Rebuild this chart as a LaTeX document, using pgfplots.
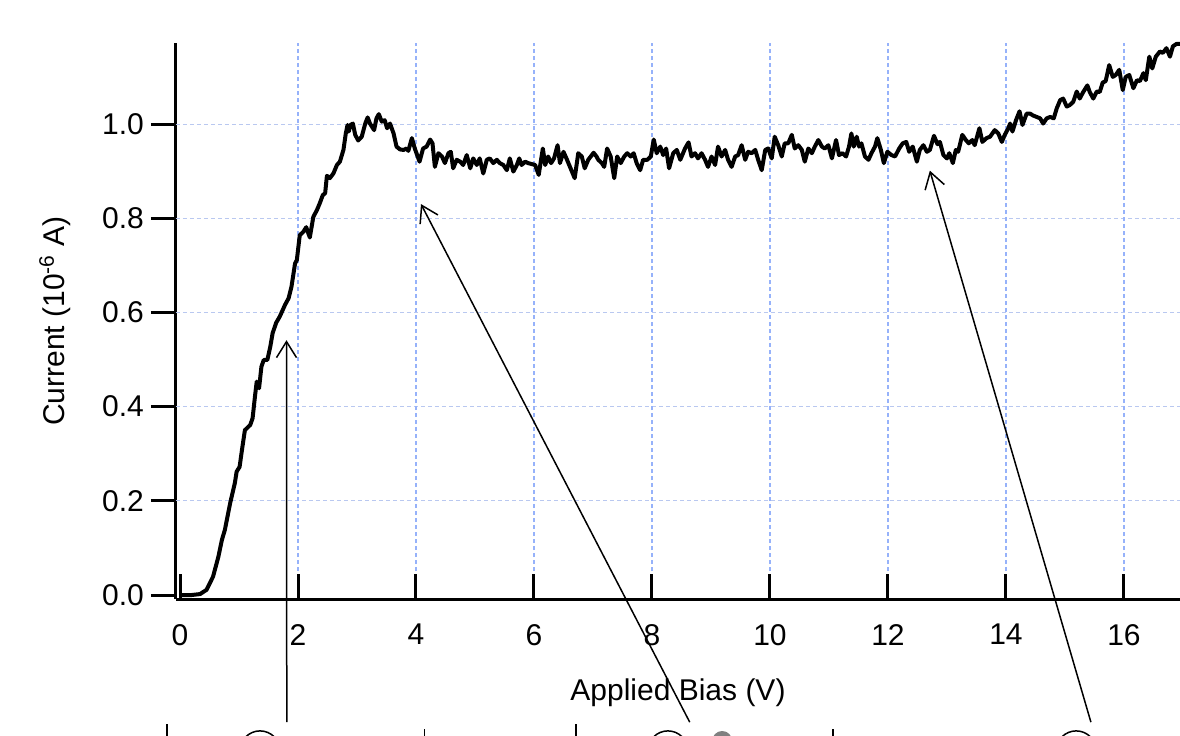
\documentclass[border=0pt]{standalone}
\usepackage{fontspec}
\setmainfont{Liberation Sans}
\usepackage{pgfplots}
\pgfplotsset{compat=1.18}
\usetikzlibrary{arrows.meta}

\definecolor{gridx}{RGB}{150,178,250}
\definecolor{gridy}{RGB}{185,200,240}

\pgfplotstableread{
x y
0.00 0.000
0.20 0.000
0.34 0.002
0.45 0.011
0.56 0.039
0.65 0.081
0.71 0.117
0.76 0.138
0.85 0.195
0.93 0.238
0.96 0.262
1.01 0.272
1.05 0.308
1.10 0.350
1.19 0.361
1.23 0.375
1.27 0.421
1.30 0.453
1.34 0.439
1.38 0.485
1.42 0.499
1.48 0.499
1.53 0.527
1.57 0.556
1.63 0.578
1.69 0.591
1.78 0.616
1.84 0.630
1.89 0.655
1.95 0.704
1.98 0.711
2.03 0.764
2.09 0.771
2.14 0.781
2.20 0.759
2.26 0.803
2.32 0.817
2.37 0.832
2.42 0.849
2.46 0.853
2.49 0.890
2.54 0.885
2.60 0.895
2.66 0.913
2.71 0.920
2.77 0.945
2.81 0.980
2.84 0.998
2.86 0.984
2.89 0.998
2.93 1.001
2.97 0.977
3.02 0.965
3.08 0.973
3.14 1.001
3.18 1.014
3.22 1.001
3.29 0.987
3.33 1.012
3.37 1.021
3.42 1.005
3.47 1.008
3.51 0.991
3.56 1.001
3.62 0.980
3.67 0.952
3.73 0.946
3.79 0.945
3.84 0.948
3.87 0.943
3.93 0.970
3.98 0.948
4.06 0.920
4.12 0.948
4.18 0.952
4.24 0.967
4.28 0.959
4.32 0.909
4.38 0.938
4.44 0.931
4.49 0.917
4.55 0.938
4.59 0.941
4.63 0.906
4.69 0.924
4.75 0.920
4.80 0.913
4.86 0.934
4.92 0.906
4.97 0.927
5.03 0.913
5.08 0.927
5.14 0.895
5.20 0.924
5.25 0.927
5.31 0.917
5.37 0.924
5.42 0.917
5.48 0.913
5.54 0.902
5.59 0.927
5.65 0.899
5.71 0.913
5.75 0.927
5.79 0.913
5.85 0.920
5.90 0.917
5.96 0.915
6.02 0.913
6.08 0.892
6.15 0.948
6.19 0.913
6.24 0.931
6.29 0.917
6.34 0.927
6.40 0.955
6.44 0.917
6.50 0.941
6.55 0.927
6.62 0.906
6.69 0.885
6.75 0.938
6.81 0.931
6.86 0.906
6.92 0.924
7.01 0.939
7.06 0.931
7.09 0.924
7.15 0.917
7.19 0.909
7.24 0.948
7.30 0.931
7.36 0.885
7.41 0.931
7.47 0.917
7.53 0.931
7.58 0.938
7.64 0.931
7.69 0.938
7.74 0.917
7.80 0.902
7.85 0.924
7.92 0.924
7.98 0.931
8.03 0.967
8.08 0.938
8.14 0.952
8.19 0.934
8.24 0.948
8.29 0.906
8.36 0.938
8.42 0.945
8.48 0.924
8.56 0.948
8.62 0.961
8.67 0.931
8.73 0.938
8.78 0.927
8.84 0.938
8.90 0.924
8.95 0.909
9.01 0.931
9.07 0.913
9.12 0.952
9.18 0.931
9.24 0.945
9.29 0.924
9.35 0.909
9.41 0.931
9.46 0.934
9.52 0.955
9.58 0.924
9.63 0.941
9.69 0.938
9.75 0.945
9.80 0.924
9.86 0.902
9.92 0.945
9.97 0.948
10.03 0.927
10.08 0.973
10.14 0.955
10.20 0.931
10.25 0.959
10.31 0.959
10.37 0.977
10.42 0.948
10.48 0.955
10.54 0.945
10.59 0.920
10.65 0.948
10.71 0.938
10.76 0.952
10.82 0.966
10.88 0.952
10.93 0.948
10.99 0.955
11.05 0.927
11.12 0.966
11.17 0.934
11.23 0.938
11.29 0.931
11.34 0.952
11.38 0.980
11.42 0.952
11.47 0.973
11.51 0.952
11.55 0.959
11.61 0.931
11.67 0.924
11.72 0.938
11.78 0.952
11.82 0.970
11.88 0.945
11.93 0.917
11.99 0.941
12.06 0.934
12.12 0.931
12.19 0.948
12.25 0.959
12.31 0.962
12.36 0.941
12.42 0.952
12.49 0.920
12.54 0.945
12.60 0.955
12.66 0.941
12.71 0.945
12.78 0.975
12.84 0.957
12.88 0.962
12.94 0.934
13.00 0.927
13.04 0.938
13.10 0.917
13.15 0.945
13.19 0.941
13.26 0.977
13.32 0.966
13.37 0.959
13.43 0.966
13.47 0.955
13.55 0.991
13.60 0.962
13.67 0.970
13.73 0.973
13.81 0.987
13.87 0.980
13.93 0.962
13.98 0.977
14.04 0.991
14.07 1.001
14.11 0.984
14.17 1.008
14.23 1.027
14.28 0.998
14.35 1.022
14.41 1.022
14.46 1.018
14.52 1.015
14.58 1.012
14.63 1.001
14.69 1.012
14.75 1.015
14.81 1.012
14.86 1.033
14.92 1.051
14.97 1.054
15.03 1.037
15.08 1.040
15.14 1.047
15.20 1.069
15.25 1.054
15.31 1.068
15.38 1.082
15.42 1.068
15.48 1.054
15.54 1.069
15.59 1.068
15.64 1.088
15.69 1.091
15.75 1.125
15.81 1.100
15.86 1.104
15.92 1.115
15.98 1.072
16.03 1.100
16.09 1.104
16.16 1.076
16.22 1.093
16.27 1.091
16.33 1.108
16.37 1.093
16.43 1.143
16.48 1.118
16.54 1.143
16.61 1.154
16.66 1.151
16.72 1.161
16.78 1.143
16.83 1.165
16.89 1.170
16.95 1.170
}\currentdata

\begin{document}
\begin{tikzpicture}
\begin{axis}[
    name=ax,
    scale only axis,
    width=502pt,
    height=278pt,
    xmin=-0.068, xmax=16.95,
    ymin=-0.0085, ymax=1.172,
    axis x line*=bottom,
    axis y line*=left,
    axis line style={line width=1.5pt, -},
    xtick pos=lower,
    ytick pos=left,
    xtick align=inside,
    ytick align=outside,
    major tick length=12.5pt,
    major tick style={line width=1.5pt, black},
    xtick={0,2,...,16},
    xticklabels={0,2,4,6,8,10,12,14,16},
    ytick={0,0.2,0.4,0.6,0.8,1.0},
    yticklabels={0.0,0.2,0.4,0.6,0.8,1.0},
    tick label style={font=\fontsize{15}{18}\selectfont},
    xticklabel style={yshift=-9pt},
    label style={font=\fontsize{15}{18}\selectfont},
    xlabel={Applied Bias (V)},
    xlabel style={yshift=-10pt},
    ylabel={Current (10\textsuperscript{-6} A)},
    ylabel style={at={(rel axis cs:0,0.5)}, anchor=center, yshift=60.5pt},
    clip=false,
]
% dashed grid, drawn below the curve
\pgfplotsinvokeforeach{0.2,0.4,0.6,0.8,1.0}{
    \draw[gridy, line width=0.5pt, dash pattern=on 2pt off 1.5pt]
        (axis cs:-0.068,#1) -- (axis cs:16.95,#1);
}
\pgfplotsinvokeforeach{2,4,6,8,10,12,14,16}{
    \draw[gridx, line width=0.6pt, dash pattern=on 2pt off 1.5pt]
        (axis cs:#1,-0.0085) -- (axis cs:#1,1.172);
}
% x ticks point up into the plot
\pgfplotsinvokeforeach{0,2,4,6,8,10,12,14,16}{
    \draw[black, line width=1.5pt] (axis cs:#1,-0.0085) -- ++(0pt,12.5pt);
}

\addplot[black, line width=2pt, line join=round, mark=none] table[x=x, y=y] {\currentdata};

% annotation arrows
\draw[-{Straight Barb[length=8pt,width=10pt]}, line width=0.75pt]
    (axis cs:1.81,-0.27) -- (axis cs:1.805,0.541);
\draw[-{Straight Barb[length=8pt,width=10pt]}, line width=0.75pt]
    (axis cs:8.64,-0.27) -- (axis cs:4.085,0.830);
\draw[-{Straight Barb[length=8pt,width=10pt]}, line width=0.75pt]
    (axis cs:15.44,-0.27) -- (axis cs:12.71,0.901);

% cut-off marks along the bottom edge
\draw[line width=0.75pt] (axis cs:1.356,-0.331) circle[radius=10pt];
\draw[line width=0.75pt] (axis cs:8.27,-0.331) circle[radius=10pt];
\draw[line width=0.75pt] (axis cs:15.19,-0.331) circle[radius=10pt];
\fill[gray] (axis cs:9.19,-0.310) circle[radius=5pt];
\draw[line width=0.75pt] (axis cs:-0.22,-0.274) -- (axis cs:-0.22,-0.31);
\draw[line width=0.75pt] (axis cs:4.14,-0.285) -- (axis cs:4.14,-0.31);
\draw[line width=0.75pt] (axis cs:6.71,-0.274) -- (axis cs:6.71,-0.31);
\draw[line width=0.75pt] (axis cs:11.07,-0.285) -- (axis cs:11.07,-0.31);
\end{axis}
\pgfresetboundingbox
\path ([xshift=-88pt,yshift=-68pt]ax.south west) rectangle ([yshift=21.5pt]ax.north east);
\end{tikzpicture}
\end{document}
